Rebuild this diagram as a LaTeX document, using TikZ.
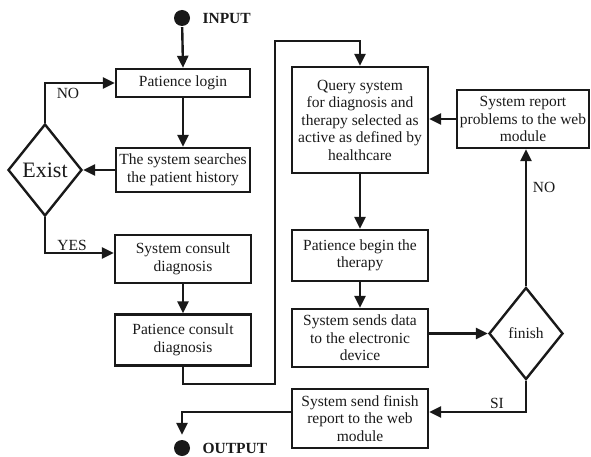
\documentclass[tikz,border=0pt]{standalone}
\usepackage{fontspec}
\setmainfont{Liberation Serif}
\usetikzlibrary{arrows.meta,shapes.geometric,calc}
\begin{document}
\begin{tikzpicture}[x=1pt,y=-1pt,
  line width=2.4pt,
  every node/.style={font=\fontsize{15.5}{17.5}\selectfont, text=black!90},
  box/.style={draw=black!90, line width=2.4pt, align=center, inner sep=0pt, minimum width=136pt},
  dia/.style={draw=black!90, diamond, aspect=0.8, line width=2.4pt, inner sep=0pt, minimum width=74pt, minimum height=92pt},
  dot/.style={circle, fill=black!90, inner sep=0pt, minimum size=16pt},
  lbl/.style={inner sep=0pt},
  arr/.style={draw=black!90, -{Triangle[length=12pt,width=11pt]}},
  ln/.style={draw=black!90}]
\useasboundingbox (0,0) rectangle (591,457);

\node[dot] (in) at (182,18) {};
\node[anchor=west, font=\fontsize{15.5}{17.5}\selectfont\bfseries] (intext) at (198,18) {INPUT};
\node[dot] (out) at (182,448) {};
\node[anchor=west, font=\fontsize{15.5}{17.5}\selectfont\bfseries] (outtext) at (198,448) {OUTPUT};

\node[box, minimum width=134pt, minimum height=28pt] (login) at (183,83) {Patience login};
\node[box, minimum width=134pt, minimum height=44pt] (search) at (183,170) {The system searches\\the patient history};
\node[dia, font=\fontsize{22}{24}\selectfont] (exist) at (45,170) {Exist};
\node[box, minimum height=48pt] (sysc) at (183,259) {System consult\\diagnosis};
\node[box, minimum height=51pt] (patc) at (183,340) {Patience consult\\diagnosis};

\node[box, minimum height=106pt] (query) at (360,120) {Query system\\for diagnosis and\\therapy selected as\\active as defined by\\healthcare};
\node[box, minimum height=51pt] (begin) at (360,255.5) {Patience begin the\\therapy};
\node[box, minimum height=58pt] (sends) at (360,338) {System sends data\\to the electronic\\device};
\node[box, minimum height=59pt] (frep) at (360,418.5) {System send finish\\report to the web\\module};
\node[box, minimum width=132pt, minimum height=58pt] (report) at (523,119) {System report\\problems to the web\\module};
\node[dia] (finish) at (526,333.5) {finish};

\coordinate (c1) at (275,384);
\coordinate (c2) at (275,41);

\draw[arr] (in) -- (login.north);
\draw[arr] (login.south) -- (search.north);
\draw[arr] (search.west) -- (exist.east);
\draw[arr] (exist.north) |- (login.west);
\draw[arr] (exist.south) |- ([yshift=6pt]sysc.west);
\draw[arr] (sysc.south) -- (patc.north);
\draw[arr] (patc.south) |- (c1) -- (c2) -| (query.north);
\draw[arr] (query.south) -- (begin.north);
\draw[arr] (begin.south) -- (sends.north);
\draw[arr] (sends.east |- finish.west) -- (finish.west);
\draw[arr] (finish.north) -- (finish.north |- report.south);
\draw[arr] (report.west) -- (report.west -| query.east);
\draw[arr] (finish.south) |- ([yshift=6.5pt]frep.east);
\draw[arr, shorten >=4pt] ([yshift=6.5pt]frep.west) -| (out.north);

\node[lbl] (lno) at (68,93) {NO};
\node[lbl] (lyes) at (72,245) {YES};
\node[lbl] (lno2) at (544,187) {NO};
\node[lbl] (lsi) at (497,403) {SI};
\end{tikzpicture}
\end{document}
